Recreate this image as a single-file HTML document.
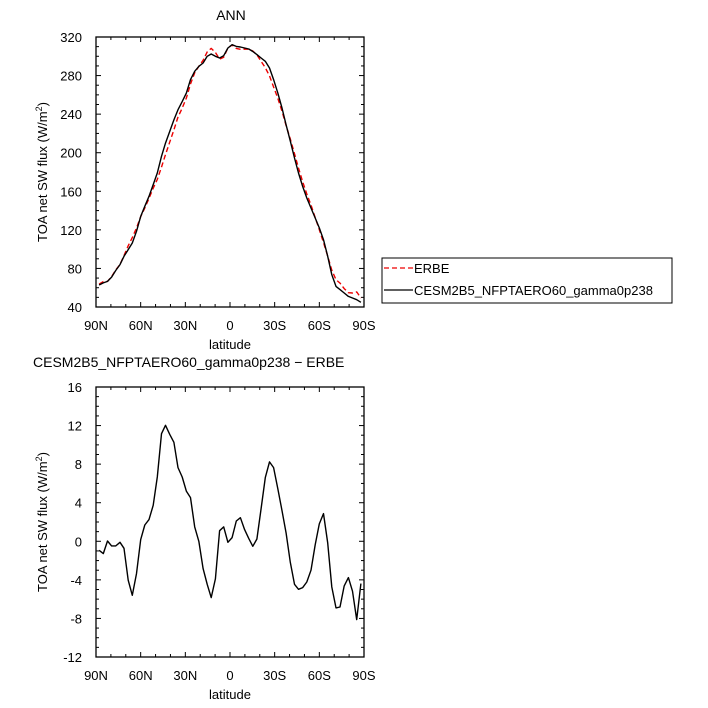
<!DOCTYPE html>
<html><head><meta charset="utf-8"><style>
html,body{margin:0;padding:0;background:#fff;}
svg{display:block;font-family:"Liberation Sans",sans-serif;}
</style></head><body>
<svg id="chart" width="708" height="708" viewBox="0 0 708 708" xmlns="http://www.w3.org/2000/svg">
<text x="231" y="20" font-size="14" text-anchor="middle">ANN</text>
<text x="33" y="367" font-size="14">CESM2B5_NFPTAERO60_gamma0p238 − ERBE</text>
<g id="top"></g>
<g id="bot"></g>
<g>
<rect x="382" y="258" width="290" height="45" fill="none" stroke="#000" stroke-width="1"/>
<line x1="384" y1="268" x2="413" y2="268" stroke="#e00" stroke-width="1.3" stroke-dasharray="5,3"/>
<text x="414" y="273" font-size="13">ERBE</text>
<line x1="384" y1="290" x2="413" y2="290" stroke="#000" stroke-width="1.3"/>
<text x="414" y="295" font-size="13">CESM2B5_NFPTAERO60_gamma0p238</text>
</g>
</svg>
<script>
const lats=[87.9,85.1,82.3,79.5,76.7,73.9,71.2,68.4,65.6,62.8,60.0,57.2,54.4,51.6,48.8,46.0,43.3,40.5,37.7,34.9,32.1,29.3,26.5,23.7,20.9,18.1,15.3,12.6,9.8,7.0,4.2,1.4,-1.4,-4.2,-7.0,-9.8,-12.6,-15.3,-18.1,-20.9,-23.7,-26.5,-29.3,-32.1,-34.9,-37.7,-40.5,-43.3,-46.0,-48.8,-51.6,-54.4,-57.2,-60.0,-62.8,-65.6,-68.4,-71.2,-73.9,-76.7,-79.5,-82.3,-85.1,-87.9];
const modelVals=[62.8,65,66.6,71,78,84,92.6,99.5,106.4,118.5,134,144.4,154.8,166.9,179,196.3,210,222,234,244.6,253,262,275.8,284.4,289.6,293,300,302.4,300,298.2,300.6,308.6,312,310.3,309.6,308.6,307.6,305,301.7,298.2,294.8,287.9,275.8,262,246.4,229,212,194.5,179,165,153,142.7,132.3,122,109.8,92.6,73.5,61.4,58,54.5,51,49.3,47.6,44.9];
const erbeVals=[63.7,66.3,66.6,71.5,78.5,84.1,93.3,103.5,112,121.9,133.8,142.7,152.6,163.2,172.3,185.1,198,210.9,223.7,237,246.3,256.8,271.3,282.9,289.6,295.8,304.5,308.2,303.9,297.1,299.1,308.7,311.6,308.2,307.2,307.4,307.3,305.5,301.5,294.8,288.2,279.7,268.2,256.5,243.2,228.1,214.2,199,184,169.8,157.2,145.7,132.7,120.2,106.9,92.8,78.2,68.3,64.8,59.1,54.8,54.5,55.7,49.3];
const diffVals=[-0.93,-1.28,0.03,-0.48,-0.48,-0.1,-0.73,-4.04,-5.6,-3.35,0.17,1.69,2.25,3.73,6.67,11.16,12.03,11.1,10.27,7.64,6.67,5.18,4.53,1.49,-0.03,-2.83,-4.46,-5.84,-3.9,1.1,1.49,-0.1,0.38,2.1,2.45,1.21,0.28,-0.52,0.24,3.39,6.6,8.23,7.64,5.46,3.18,0.86,-2.18,-4.46,-4.98,-4.8,-4.22,-3.0,-0.35,1.8,2.87,-0.17,-4.74,-6.91,-6.81,-4.63,-3.77,-5.18,-8.12,-4.39];
const xTickVals=[90,60,30,0,-30,-60,-90];
const xTickLabels=["90N","60N","30N","0","30S","60S","90S"];
const topYTicks=[40,80,120,160,200,240,280,320];
const botYTicks=[-12,-8,-4,0,4,8,12,16];

const NS="http://www.w3.org/2000/svg";
const L=96,R=364;
function mk(parent,tag,attrs){const e=document.createElementNS(NS,tag);for(const k in attrs)e.setAttribute(k,attrs[k]);parent.appendChild(e);return e;}
function xs(lat){return L+(90-lat)/180*(R-L);}
function panel(g,top,bot,ymin,ymax,yticks,ymstep,series,prefix){
  const ys=v=>bot-(v-ymin)/(ymax-ymin)*(bot-top);
  const fr=mk(g,'rect',{x:L,y:top,width:R-L,height:bot-top,fill:'none',stroke:'#000','stroke-width':1.3});
  
  
  for(let lat=90;lat>=-90;lat-=10){
    const x=xs(lat),len=(lat%30===0)?5:3;
    const t1=mk(g,'line',{x1:x,y1:bot,x2:x,y2:bot-len,stroke:'#000'});
    
    
    const t2=mk(g,'line',{x1:x,y1:top,x2:x,y2:top+len,stroke:'#000'});
    
    
  }
  xTickVals.forEach((v,i)=>{
    const t=mk(g,'text',{x:xs(v),y:bot+23,'font-size':13,'text-anchor':'middle'});t.textContent=xTickLabels[i];
    
    
  });
  const xl=mk(g,'text',{x:(L+R)/2,y:bot+42,'font-size':13,'text-anchor':'middle'});xl.textContent='latitude';
  
  
  for(let v=ymin;v<=ymax+1e-9;v+=ymstep){
    const y=ys(v),maj=yticks.some(t=>Math.abs(t-v)<1e-6),len=maj?5:3;
    const a=mk(g,'line',{x1:L,y1:y,x2:L+len,y2:y,stroke:'#000'});
    
    
    const b=mk(g,'line',{x1:R,y1:y,x2:R-len,y2:y,stroke:'#000'});
    
    
  }
  yticks.forEach(v=>{
    const t=mk(g,'text',{x:L-14,y:ys(v)+5,'font-size':13,'text-anchor':'end'});t.textContent=v;
    
    
  });
  const yl=mk(g,'text',{x:0,y:0,'font-size':13,'text-anchor':'middle',transform:`translate(47,${(top+bot)/2}) rotate(-90)`});
  yl.innerHTML='TOA net SW flux  (W/m<tspan dy="-5" font-size="9">2</tspan><tspan dy="5">)</tspan>';
  
  
  series.forEach(s=>{
    const p=mk(g,'polyline',{points:s.vals.map((v,i)=>xs(lats[i]).toFixed(1)+','+ys(v).toFixed(1)).join(' '),fill:'none',stroke:s.color,'stroke-width':1.4,'stroke-dasharray':s.dash||'none','stroke-linejoin':'round'});
    
    
  });
}
panel(document.getElementById('top'),37,307,40,320,topYTicks,10,[
  {vals:erbeVals,color:'#e00',dash:'5,3',name:'erbe-line'},
  {vals:modelVals,color:'#000',name:'model-line'}],'top');
panel(document.getElementById('bot'),387,657,-12,16,botYTicks,1,[
  {vals:diffVals,color:'#000',name:'difference-line'}],'bottom');
</script>
</body></html>
